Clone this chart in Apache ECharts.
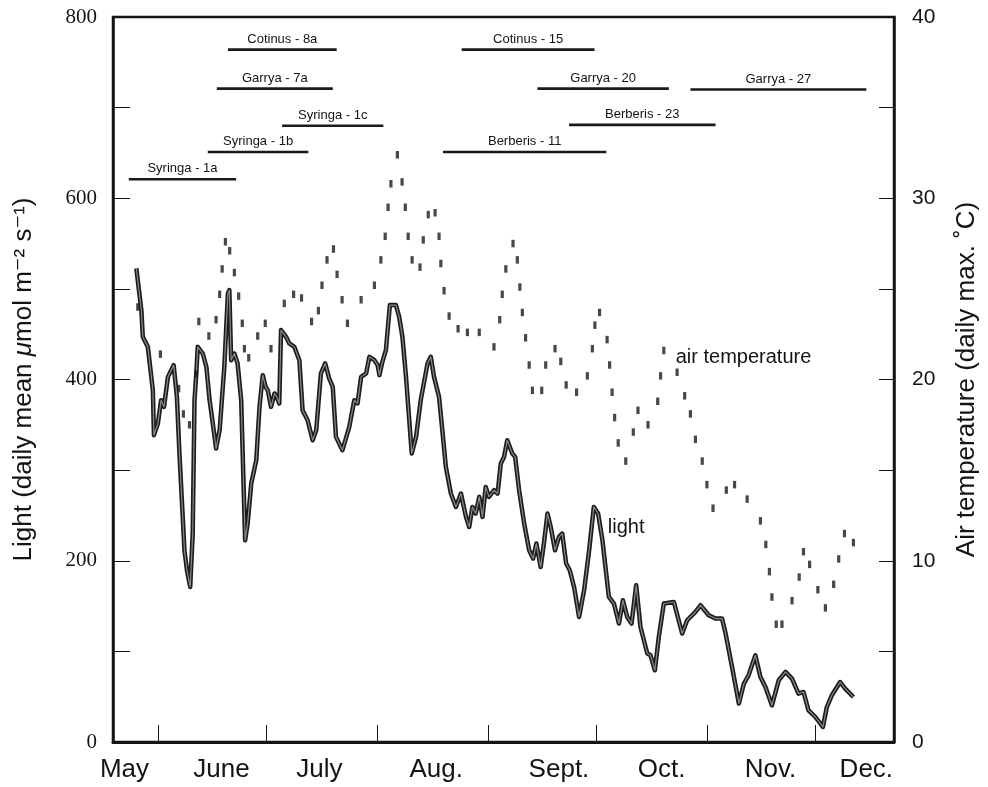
<!DOCTYPE html>
<html>
<head>
<meta charset="utf-8">
<script src="https://cdn.jsdelivr.net/npm/echarts@6/dist/echarts.min.js"></script>
<style>
  html, body { margin: 0; padding: 0; background: #fff; }
  #chart { width: 988px; height: 787px; }
</style>
</head>
<body>
<div id="chart"></div>
<script>
// Days are counted from 1 May.
const monthStarts = [31, 61, 92, 123, 153, 184, 214];
const monthNames = ['May', 'June', 'July', 'Aug.', 'Sept.', 'Oct.', 'Nov.', 'Dec.'];
const monthLabelDays = [21.6, 48.6, 75.9, 108.4, 142.6, 171.2, 201.5, 228.2];

// Daily mean light (µmol m-2 s-1)
const lightDay = [24.9, 26.3, 26.7, 28.1, 28.6, 29.5, 29.8, 30.9, 31.8, 32.6, 33.7, 34.6, 35.3, 36.2, 36.9, 38.3, 39.0, 39.9, 40.6, 41.1,
  41.6, 42.0, 43.4, 44.4, 45.3, 46.2, 47.1, 48.1, 49.4, 50.4, 50.8, 51.3, 52.2, 53.1, 54.1, 55.2, 55.9, 56.9, 58.3, 59.2,
  60.1, 60.9, 61.5, 62.4, 63.4, 64.0, 64.7, 65.2, 66.6, 67.5, 68.9, 70.3, 71.2, 72.6, 74.0, 75.0, 76.3, 77.5, 78.6, 79.6,
  80.5, 82.3, 84.2, 85.6, 86.5, 87.5, 88.9, 89.8, 91.2, 92.1, 92.6, 93.3, 94.4, 95.5, 97.2, 98.1, 99.0, 100.0, 101.6, 102.8,
  104.1, 106.0, 106.9, 107.8, 109.2, 110.2, 111.1, 112.5, 113.9, 115.3, 116.7, 117.6, 118.5, 119.4, 120.4, 121.3, 122.2, 123.1, 124.5, 125.5,
  126.4, 127.3, 128.2, 129.6, 130.4, 131.5, 132.9, 134.3, 135.4, 136.3, 137.5, 138.4, 139.4, 140.3, 141.5, 142.6, 143.5, 144.6, 145.6, 146.8,
  148.2, 149.6, 151.0, 152.3, 153.5, 154.7, 156.5, 157.9, 159.3, 160.4, 161.6, 162.8, 164.1, 165.3, 167.2, 168.1, 169.3, 170.4, 171.8, 174.6,
  176.9, 178.3, 180.6, 182.0, 184.3, 186.2, 188.0, 189.0, 190.8, 192.7, 194.1, 195.4, 197.3, 198.7, 200.1, 201.9, 203.8, 205.7, 207.5, 209.3,
  210.7, 212.1, 214.0, 216.1, 217.2, 218.6, 220.9, 222.3, 224.6];
const lightValue = [522.6, 476.5, 447.1, 436.0, 434.3, 388.2, 338.6, 351.5, 377.2, 369.8, 402.9, 410.3, 415.8, 380.8, 318.4, 211.6, 189.5, 171.1, 230.0, 377.2,
  406.7, 436.0, 428.7, 414.0, 377.2, 351.5, 323.9, 344.1, 414.0, 495.0, 498.6, 421.3, 428.7, 417.7, 377.2, 222.7, 241.1, 285.2, 311.0, 369.8,
  404.8, 391.9, 388.2, 369.8, 384.6, 380.8, 373.6, 454.5, 447.1, 439.8, 436.0, 421.3, 366.2, 355.1, 333.0, 344.1, 406.7, 417.7, 401.2, 391.9,
  336.7, 322.0, 347.7, 377.2, 373.6, 402.9, 406.7, 425.0, 421.3, 415.8, 404.8, 417.7, 432.4, 482.1, 482.1, 469.1, 447.1, 402.9, 318.4, 336.7,
  377.2, 417.7, 425.0, 402.9, 380.8, 340.4, 303.6, 274.2, 259.4, 274.2, 248.4, 237.3, 259.4, 252.1, 270.5, 248.4, 281.5, 270.5, 277.8, 274.2,
  307.3, 314.6, 333.0, 318.4, 314.6, 277.8, 241.1, 211.6, 202.4, 219.0, 193.2, 219.0, 252.1, 237.3, 211.6, 226.3, 230.0, 196.9, 189.5, 171.1,
  138.0, 167.5, 211.6, 259.4, 252.1, 222.7, 160.1, 152.8, 130.7, 156.4, 138.0, 130.7, 173.0, 126.9, 97.6, 95.7, 79.1, 115.9, 152.8, 154.5,
  119.7, 134.3, 143.5, 150.9, 139.9, 136.2, 136.2, 119.7, 82.8, 42.4, 64.5, 73.6, 95.7, 71.8, 60.7, 40.5, 68.1, 77.3, 70.0, 53.4,
  55.2, 35.0, 27.6, 16.6, 38.6, 51.6, 66.2, 58.9, 49.7];

// Daily maximum air temperature (°C)
const tempDay = [25.3, 31.6, 36.7, 38.0, 39.7, 41.6, 42.3, 45.1, 47.1, 48.1, 48.8, 49.7, 50.9, 52.2, 53.4, 54.4, 55.0, 56.2, 58.7, 60.8,
  62.4, 66.1, 68.7, 70.9, 73.7, 75.6, 76.6, 78.0, 79.8, 80.8, 82.2, 83.7, 87.5, 91.2, 93.0, 94.2, 95.0, 95.8, 97.6, 98.9,
  99.8, 100.6, 101.7, 103.9, 104.8, 106.2, 108.1, 109.2, 109.7, 110.6, 112.0, 114.5, 117.1, 120.4, 124.5, 126.1, 126.8, 127.8, 129.8, 131.0,
  131.7, 132.4, 133.3, 134.3, 135.2, 137.8, 138.9, 141.5, 143.1, 144.6, 147.5, 150.5, 151.9, 152.6, 153.9, 156.0, 156.7, 157.4, 158.1, 159.1,
  161.2, 163.3, 164.6, 167.4, 170.1, 170.9, 171.8, 175.5, 177.6, 179.2, 180.6, 182.5, 183.8, 185.5, 189.2, 191.5, 195.0, 198.7, 200.2, 201.2,
  201.9, 203.1, 204.7, 207.5, 209.5, 210.7, 212.4, 214.7, 216.8, 219.1, 220.5, 222.1, 224.6];
const tempValue = [24.0, 21.4, 19.5, 18.1, 17.5, 20.3, 23.2, 22.4, 23.3, 24.7, 26.1, 27.6, 27.1, 25.9, 24.6, 23.1, 21.7, 21.2, 22.4, 23.1,
  21.7, 24.2, 24.7, 24.5, 23.2, 23.8, 25.2, 26.6, 27.2, 25.8, 24.4, 23.1, 24.4, 25.2, 26.6, 27.9, 29.5, 30.8, 32.4, 30.9,
  29.5, 27.9, 26.6, 26.2, 27.7, 29.1, 29.2, 27.9, 26.4, 24.9, 23.5, 22.8, 22.6, 22.6, 21.8, 23.3, 24.7, 26.1, 27.5, 26.6,
  25.1, 23.7, 22.3, 20.8, 19.4, 19.4, 20.8, 21.7, 21.0, 19.7, 19.3, 20.2, 21.7, 23.0, 23.7, 22.2, 20.8, 19.3, 17.9, 16.5,
  15.5, 17.1, 18.3, 17.5, 18.8, 20.2, 21.6, 20.4, 19.1, 18.1, 16.7, 15.5, 14.2, 12.9, 13.9, 14.2, 13.4, 12.2, 10.9, 9.4,
  8.0, 6.5, 6.5, 7.8, 9.1, 10.5, 9.8, 8.4, 7.4, 8.7, 10.1, 11.5, 11.0];

// Sampling periods drawn as bars along the top of the plot
const periodNames = ['Syringa - 1a', 'Syringa - 1b', 'Syringa - 1c', 'Garrya - 7a', 'Cotinus - 8a',
  'Berberis - 11', 'Cotinus - 15', 'Garrya - 20', 'Berberis - 23', 'Garrya - 27'];
const periodStart = [22.8, 44.8, 65.5, 47.3, 50.4, 110.3, 115.5, 136.6, 145.4, 179.2];
const periodEnd = [52.7, 72.8, 93.7, 79.6, 80.7, 155.8, 152.5, 173.2, 186.2, 228.2];
const periodLevel = [621, 651, 680, 721, 764, 651, 764, 721, 681, 720];

const zip = (a, b) => a.slice(0, Math.min(a.length, b.length)).map((v, i) => [v, b[i]]);
const lightData = zip(lightDay, lightValue);
const tempData = zip(tempDay, tempValue);
const periodData = periodNames.map((n, i) => [periodStart[i], periodEnd[i], periodLevel[i], i]);

const INK = '#141414';
const SANS = '"Liberation Sans", "DejaVu Sans", Arial, sans-serif';
const SERIF = '"Liberation Serif", "DejaVu Serif", serif';

const chart = echarts.init(document.getElementById('chart'), null, { renderer: 'canvas' });

chart.setOption({
  backgroundColor: '#ffffff',
  animation: false,
  grid: {
    left: 113, right: 93, top: 17, bottom: 45,
    show: true, borderColor: INK, borderWidth: 2.5, backgroundColor: 'transparent'
  },
  xAxis: {
    type: 'value', min: 18.4, max: 235.9,
    axisLine: { show: true, onZero: false, lineStyle: { color: INK, width: 3 } },
    axisTick: { show: true, inside: true, length: 17, customValues: monthStarts, lineStyle: { color: INK, width: 1 } },
    axisLabel: {
      customValues: monthLabelDays,
      formatter: function (v) {
        let best = 0, d = Infinity;
        monthLabelDays.forEach((m, i) => { if (Math.abs(m - v) < d) { d = Math.abs(m - v); best = i; } });
        return monthNames[best];
      },
      fontFamily: SANS, fontSize: 26, color: INK, margin: 15
    },
    splitLine: { show: false }
  },
  yAxis: [
    {
      type: 'value', min: 0, max: 800, interval: 100, position: 'left',
      axisLine: { show: true, onZero: false, lineStyle: { color: INK, width: 2.5 } },
      axisTick: { show: true, inside: true, length: 17, lineStyle: { color: INK, width: 1 } },
      axisLabel: {
        formatter: v => (v % 200 === 0 ? String(v) : ''),
        fontFamily: SERIF, fontSize: 21, color: INK, margin: 16
      },
      splitLine: { show: false },
      name: '{t|Light (daily mean }{mu|μ}{t|mol m⁻² s⁻¹)}',
      nameLocation: 'middle', nameGap: 76, nameRotate: 90,
      nameTextStyle: {
        rich: {
          t: { fontFamily: SANS, fontSize: 26, color: INK },
          mu: { fontFamily: SANS, fontSize: 26, fontStyle: 'italic', color: INK }
        }
      }
    },
    {
      type: 'value', min: 0, max: 40, interval: 5, position: 'right',
      axisLine: { show: true, onZero: false, lineStyle: { color: INK, width: 2.5 } },
      axisTick: { show: true, inside: true, length: 15, lineStyle: { color: INK, width: 1 } },
      axisLabel: {
        formatter: v => (v % 10 === 0 ? String(v) : ''),
        fontFamily: SANS, fontSize: 21, color: INK, margin: 18
      },
      splitLine: { show: false },
      name: 'Air temperature (daily max. ˚C)',
      nameLocation: 'middle', nameGap: 60, nameRotate: 90,
      nameTextStyle: { fontFamily: SANS, fontSize: 26, color: INK }
    }
  ],
  series: [
    {
      name: 'light', type: 'line', yAxisIndex: 0, data: lightData,
      showSymbol: false, smooth: false,
      lineStyle: { color: '#1c1c1c', width: 4.5, join: 'round' },
      z: 3
    },
    {
      name: 'light core', type: 'line', yAxisIndex: 0, data: lightData,
      showSymbol: false, smooth: false, silent: true,
      lineStyle: { color: '#8a8a8a', width: 1.2, join: 'round' },
      z: 4
    },
    {
      name: 'air temperature', type: 'scatter', yAxisIndex: 1, data: tempData,
      symbol: 'rect', symbolSize: [3.2, 7.5], itemStyle: { color: '#1a1a1a' },
      z: 5
    },
    {
      name: 'periods', type: 'custom', yAxisIndex: 0, data: periodData,
      encode: { x: [0, 1], y: 2 }, clip: false, z: 6,
      renderItem: function (params, api) {
        const p1 = api.coord([api.value(0), api.value(2)]);
        const p2 = api.coord([api.value(1), api.value(2)]);
        return {
          type: 'group',
          children: [
            { type: 'line', shape: { x1: p1[0], y1: p1[1], x2: p2[0], y2: p2[1] },
              style: { stroke: '#1a1a1a', lineWidth: 2.6 } },
            { type: 'text',
              style: { text: periodNames[api.value(3)], x: (p1[0] + p2[0]) / 2, y: p1[1] - 4,
                align: 'center', verticalAlign: 'bottom',
                font: '13px ' + SANS, fill: INK } }
          ]
        };
      }
    }
  ]
});

// Series captions placed next to their curves
const airPos = chart.convertToPixel({ xAxisIndex: 0, yAxisIndex: 1 }, [175.1, 21.2]);
const lightPos = chart.convertToPixel({ xAxisIndex: 0, yAxisIndex: 0 }, [156.2, 237]);
chart.setOption({
  graphic: [
    { type: 'text', x: airPos[0], y: airPos[1],
      style: { text: 'air temperature', font: '20px ' + SANS, fill: INK, align: 'left', verticalAlign: 'middle' } },
    { type: 'text', x: lightPos[0], y: lightPos[1],
      style: { text: 'light', font: '20px ' + SANS, fill: INK, align: 'left', verticalAlign: 'middle' } }
  ]
});
</script>
</body>
</html>
